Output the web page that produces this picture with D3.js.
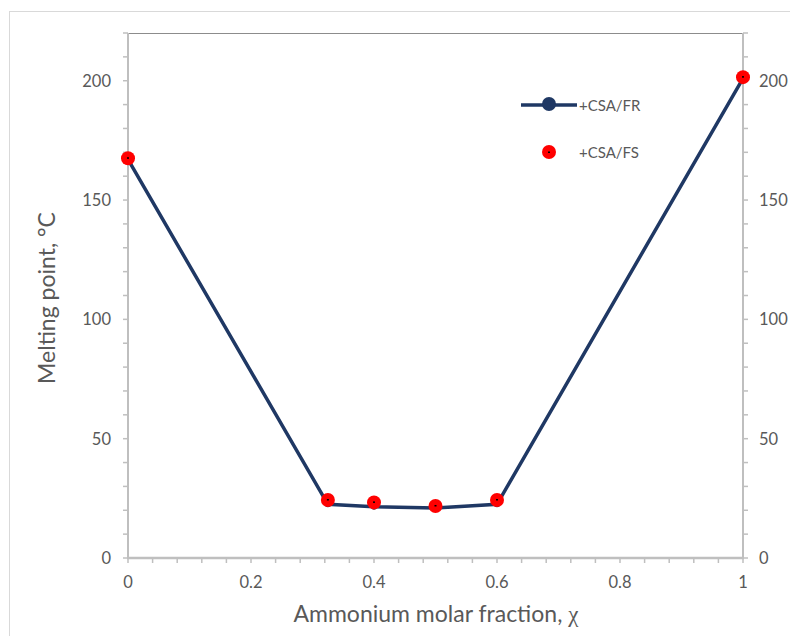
<!DOCTYPE html>
<meta charset="utf-8">
<script src="https://d3js.org/d3.v7.min.js"></script>
<style>
  body { margin: 0; background: #fff; }
  text { font-family: Lato, "Open Sans", sans-serif; fill: #595959; }
</style>
<div id="chart"></div>
<script>
// molar fraction of ammonium
var fractionFR = [0, 0.325, 0.4, 0.5, 0.6, 1];
var meltFR = [167, 22.5, 21.5, 21, 22.5, 201];
var fractionFS = [0, 0.325, 0.4, 0.5, 0.6, 1];
var meltFS = [167.5, 24.3, 23.3, 21.8, 24.3, 201.5];
var xTicks = [0, 0.2, 0.4, 0.6, 0.8, 1];
var yTicks = [0, 50, 100, 150, 200];

var width = 790, height = 636;
var pLeft = 128, pRight = 743, pTop = 33, pBottom = 558;

var svg = d3.select("#chart").append("svg")
  .attr("width", width)
  .attr("height", height);

// outer chart frame
svg.append("rect")
  .attr("x", 9.5).attr("y", 11.5)
  .attr("width", 800).attr("height", 700)
  .attr("fill", "none")
  .attr("stroke", "#d9d9d9");

var x = d3.scaleLinear().domain([0, 1]).range([pLeft, pRight]);
var y = d3.scaleLinear().domain([0, 220]).range([pBottom, pTop]);

// top border
svg.append("line")
  .attr("x1", pLeft).attr("x2", pRight)
  .attr("y1", pTop + 0.5).attr("y2", pTop + 0.5)
  .attr("stroke", "#8c8c8c");

var gray = "#bfbfbf";

// minor ticks
var xMinor = d3.range(0, 1.0001, 0.04);
svg.selectAll("xminor").data(xMinor).enter().append("line")
  .attr("x1", d => x(d)).attr("x2", d => x(d))
  .attr("y1", pBottom).attr("y2", pBottom + 5)
  .attr("stroke", gray).attr("stroke-width", 1.5);

var yMinor = d3.range(0, 220.01, 10);
[pLeft, pRight].forEach(function (px, i) {
  svg.selectAll("yminor").data(yMinor).enter().append("line")
    .attr("x1", px).attr("x2", i === 0 ? px - 5 : px + 5)
    .attr("y1", d => y(d)).attr("y2", d => y(d))
    .attr("stroke", gray).attr("stroke-width", 1.5);
});

// axes lines
svg.append("line").attr("x1", pLeft).attr("x2", pLeft)
  .attr("y1", pTop).attr("y2", pBottom + 1)
  .attr("stroke", gray).attr("stroke-width", 2);
svg.append("line").attr("x1", pRight).attr("x2", pRight)
  .attr("y1", pTop).attr("y2", pBottom + 1)
  .attr("stroke", gray).attr("stroke-width", 2);
svg.append("line").attr("x1", pLeft - 1).attr("x2", pRight + 1)
  .attr("y1", pBottom).attr("y2", pBottom)
  .attr("stroke", gray).attr("stroke-width", 2.5);

// tick labels
svg.selectAll("xlab").data(xTicks).enter().append("text")
  .attr("x", d => x(d)).attr("y", 588)
  .attr("text-anchor", "middle")
  .style("font-size", "16.5px")
  .text(d => d);

svg.selectAll("ylabL").data(yTicks).enter().append("text")
  .attr("x", 111).attr("y", d => y(d) + 6)
  .attr("text-anchor", "end")
  .style("font-size", "16.5px")
  .text(d => d);

svg.selectAll("ylabR").data(yTicks).enter().append("text")
  .attr("x", 759).attr("y", d => y(d) + 6)
  .attr("text-anchor", "start")
  .style("font-size", "16.5px")
  .text(d => d);

// axis titles
var xt = svg.append("text")
  .attr("x", 436).attr("y", 622)
  .attr("text-anchor", "middle")
  .style("font-size", "23px");
xt.append("tspan").text("Ammonium molar fraction, ");
xt.append("tspan").style("font-family", "'Liberation Serif', serif").text("χ");

svg.append("text")
  .attr("transform", "translate(55,298) rotate(-90)")
  .attr("text-anchor", "middle")
  .style("font-size", "23px")
  .text("Melting point, °C");

// FR series
var navy = "#1f3864";
var frData = fractionFR.map((d, i) => [d, meltFR[i]]);
var line = d3.line().x(d => x(d[0])).y(d => y(d[1]));
svg.append("path")
  .datum(frData)
  .attr("d", line)
  .attr("fill", "none")
  .attr("stroke", navy)
  .attr("stroke-width", 3.5);

svg.selectAll("frpt").data(frData).enter().append("circle")
  .attr("cx", d => x(d[0])).attr("cy", d => y(d[1]))
  .attr("r", 3).attr("fill", navy);

// FS series
var fsData = fractionFS.map((d, i) => [d, meltFS[i]]);
svg.selectAll("fspt").data(fsData).enter().append("circle")
  .attr("cx", d => x(d[0])).attr("cy", d => y(d[1]))
  .attr("r", 7).attr("fill", "#ff0000");
svg.selectAll("fsdot").data(fsData).enter().append("rect")
  .attr("x", d => x(d[0]) - 1).attr("y", d => y(d[1]) - 1)
  .attr("width", 2).attr("height", 1.5).attr("fill", "#000");

// legend
var lg = svg.append("g");
lg.append("line").attr("x1", 521).attr("x2", 577)
  .attr("y1", 105).attr("y2", 105)
  .attr("stroke", navy).attr("stroke-width", 3.5);
lg.append("circle").attr("cx", 549).attr("cy", 104).attr("r", 7).attr("fill", navy);
lg.append("text").attr("x", 579).attr("y", 111)
  .style("font-size", "15px").text("+CSA/FR");
lg.append("circle").attr("cx", 549).attr("cy", 152).attr("r", 7).attr("fill", "#ff0000");
lg.append("rect").attr("x", 548).attr("y", 151.5).attr("width", 2).attr("height", 1.5).attr("fill", "#000");
lg.append("text").attr("x", 579).attr("y", 158)
  .style("font-size", "15px").text("+CSA/FS");
</script>
